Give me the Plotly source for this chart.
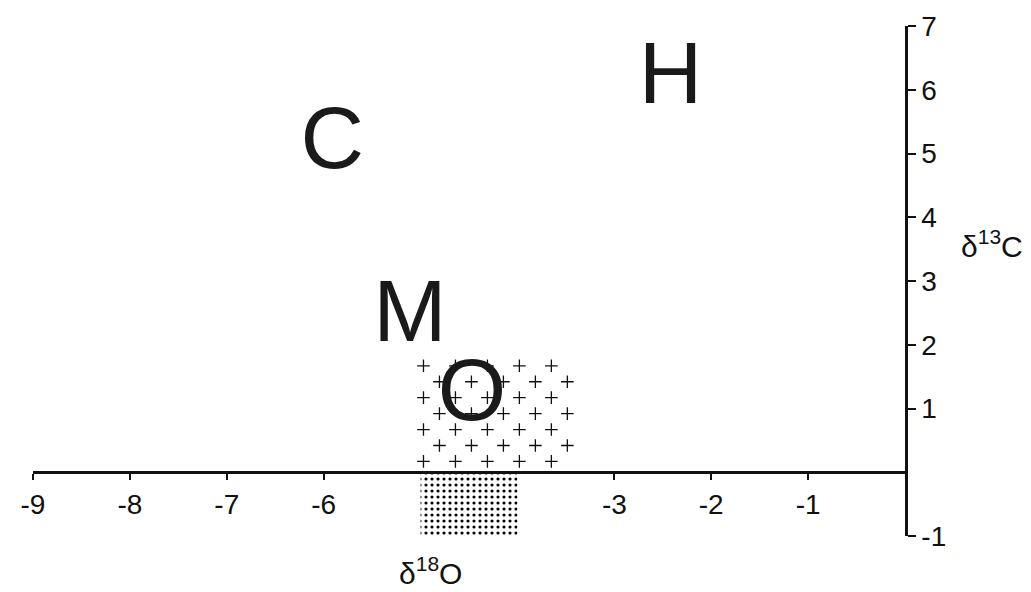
import numpy as np
import plotly.graph_objects as go

# ---- data ----
x_ticks = [-9, -8, -7, -6, -3, -2, -1]
y_ticks = [-1, 1, 2, 3, 4, 5, 6, 7]
letters = ["C", "H", "M", "O"]
letter_o18 = [-5.91, -2.42, -5.11, -4.47]
letter_c13 = [5.12, 6.13, 2.40, 1.17]
# stippled box (δ18O range, δ13C extent)
stip_o18 = [-5.0, -4.0]
stip_c13 = [0.0, -1.0]
# plus-patterned field
plus_o18 = [-5.0, -3.4]
plus_c13 = [0.0, 1.8]

tick_font = dict(family="Liberation Sans, Arial, sans-serif", size=28, color="#111")
letter_font = dict(family="Liberation Sans, Arial, sans-serif", size=88, color="#1a1a1a")
title_font = dict(family="Liberation Sans, Arial, sans-serif", size=30, color="#111")

fig = go.Figure()

# stippled box as patterned bar
fig.add_trace(go.Bar(
    x=[(stip_o18[0] + stip_o18[1]) / 2], y=[stip_c13[1] - stip_c13[0]], base=[stip_c13[0]],
    width=[stip_o18[1] - stip_o18[0]],
    marker=dict(color="white", line=dict(width=0),
                pattern=dict(shape=".", size=6, solidity=0.22, fgcolor="#000", bgcolor="white",
                             fgopacity=1)),
    hoverinfo="skip", showlegend=False,
))

# plus texture: staggered lattice inside field
px, py = [], []
dx, dy = 0.33, 0.25
rows = np.arange(plus_c13[0] + 0.17, plus_c13[1] - 0.05, dy)
for k, yy in enumerate(rows):
    start = plus_o18[0] + 0.03 if k % 2 == 0 else plus_o18[0] + 0.03 + dx / 2
    xs = np.arange(start, plus_o18[1], dx)
    px.extend(xs.tolist())
    py.extend([yy] * len(xs))
fig.add_trace(go.Scatter(
    x=px, y=py, mode="markers",
    marker=dict(symbol="cross-thin-open", size=9, color="#111",
                line=dict(width=1.3, color="#111")),
    hoverinfo="skip", showlegend=False, cliponaxis=False,
))

# letters
fig.add_trace(go.Scatter(
    x=letter_o18, y=letter_c13, mode="text", text=letters,
    textposition="middle center", textfont=letter_font,
    hoverinfo="skip", showlegend=False, cliponaxis=False,
))

fig.update_layout(
    width=1031, height=592,
    margin=dict(l=33, r=126, t=26, b=56),
    paper_bgcolor="white", plot_bgcolor="white",
    xaxis=dict(range=[-9, 0], anchor="free", position=0.125,
               showline=True, linewidth=2.5, linecolor="#111",
               ticks="outside", ticklen=6, tickwidth=2, tickcolor="#111",
               tickvals=x_ticks, ticktext=[str(v) for v in x_ticks],
               tickfont=tick_font, ticklabelstandoff=0,
               showgrid=False, zeroline=False),
    yaxis=dict(range=[-1, 7], side="right", anchor="x",
               showline=True, linewidth=2.5, linecolor="#111",
               ticks="outside", ticklen=8, tickwidth=2, tickcolor="#111",
               tickvals=y_ticks, ticktext=[str(v) for v in y_ticks],
               tickfont=tick_font,
               showgrid=False, zeroline=False),
    annotations=[
        dict(text="δ<sup>18</sup>O", xref="x", yref="paper", x=-4.90, y=-0.068,
             showarrow=False, font=title_font, xanchor="center", yanchor="middle"),
        dict(text="δ<sup>13</sup>C", xref="paper", yref="y", x=1.1, y=3.58,
             showarrow=False, font=title_font, xanchor="center", yanchor="middle"),
    ],
)

fig.write_html("out.html", config={"displayModeBar": False},
               post_script="document.body.style.margin='0';document.body.style.overflow='hidden';")
